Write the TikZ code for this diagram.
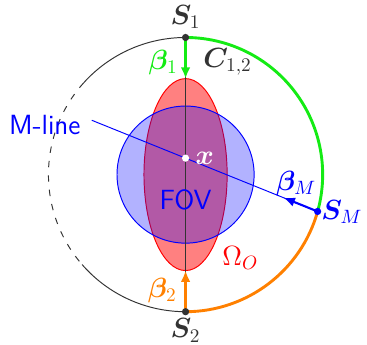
\documentclass[tikz,border=0pt]{standalone}
\usepackage{bm}
\usetikzlibrary{arrows.meta,positioning,shapes.geometric,calc}
\definecolor{labelgray}{RGB}{51,51,51}
\definecolor{arcgreen}{RGB}{20,235,20}
\definecolor{arcorange}{RGB}{255,128,0}

\begin{document}
\begin{tikzpicture}[
    lbl/.style={font=\Large,scale=1.2,inner sep=1pt},
    dot/.style={circle,fill=labelgray,inner sep=0pt,minimum size=4.5pt},
    thinarc/.style={draw=labelgray,line width=0.6pt},
    greenarc/.style={draw=arcgreen,line width=1.8pt},
    orangearc/.style={draw=arcorange,line width=1.8pt},
    arrow/.style={-{Latex[length=7pt,width=6pt]},line width=1.5pt},
    fov/.style={circle,draw=blue,line width=0.6pt,fill=blue,fill opacity=0.3,
      draw opacity=1,minimum size=3cm,inner sep=0pt,outer sep=0pt},
    object/.style={ellipse,draw=red,line width=0.6pt,fill=red!50,
      minimum width=1.82cm,minimum height=4.2cm,inner sep=0pt,outer sep=0pt}
  ]
    \useasboundingbox (-4.06,-3.71) rectangle (3.97,3.82);

    % object and field of view
    \node[object] (omega) at (0,0) {};
    \node[fov] (fovc) at (0,0) {};

    % source positions on the trajectory
    \coordinate (s1) at (90:3);
    \coordinate (s2) at (-90:3);
    \coordinate (sm) at (-15.6:3);
    \coordinate (x) at (0,0.36);
    \coordinate (mend) at ($(sm)!1.71!(x)$);
    \coordinate (bmtip) at ($(sm)!0.8cm!(x)$);

    \draw[thinarc] (s1) -- (s2);
    \draw[blue,line width=0.6pt] (mend) -- (sm);

    % trajectory
    \draw[thinarc] (s1) arc[start angle=90,end angle=138,radius=3];
    \draw[thinarc,dash pattern=on 4pt off 5pt] (138:3) arc[start angle=138,end angle=221,radius=3];
    \draw[thinarc] (221:3) arc[start angle=221,end angle=270,radius=3];
    \draw[greenarc] (s1) arc[start angle=90,end angle=-15.6,radius=3];
    \draw[orangearc] (sm) arc[start angle=-15.6,end angle=-90,radius=3];

    % projection directions
    \draw[arrow,arcgreen] (s1) -- (omega.north);
    \draw[arrow,arcorange] (s2) -- (omega.south);
    \draw[arrow,blue,line width=1.3pt] (sm) -- (bmtip);

    \node[dot] (s1dot) at (s1) {};
    \node[dot] (s2dot) at (s2) {};
    \node[dot,fill=blue] (smdot) at (sm) {};
    \node[dot,fill=white] (xdot) at (x) {};

    % labels
    \node[lbl,text=labelgray] (s1lbl) at (0,3.45) {$\bm{S}_1$};
    \node[lbl,text=labelgray] (s2lbl) at (0,-3.41) {$\bm{S}_2$};
    \node[lbl,text=blue] (smlbl) at (3.42,-0.82) {$\bm{S}_M$};
    \node[lbl,text=arcgreen] (b1lbl) at (-0.49,2.46) {$\bm{\beta}_1$};
    \node[lbl,text=arcorange] (b2lbl) at (-0.51,-2.53) {$\bm{\beta}_2$};
    \node[lbl,text=blue] (bmlbl) at (2.42,-0.19) {$\bm{\beta}_M$};
    \node[lbl,text=labelgray] (c12lbl) at (0.92,2.46) {$\bm{C}_{1,2}$};
    \node[lbl,text=white] (xlbl) at (0.42,0.36) {$\bm{x}$};
    \node[lbl,text=blue,font=\Large\sffamily] (mlbl) at (-3.08,1.08) {M-line};
    \node[lbl,text=blue,font=\Large\sffamily] (fovlbl) at (0,-0.56) {FOV};
    \node[lbl,text=red] (omlbl) at (1.2,-1.83) {$\Omega_O$};
  \end{tikzpicture}
\end{document}
